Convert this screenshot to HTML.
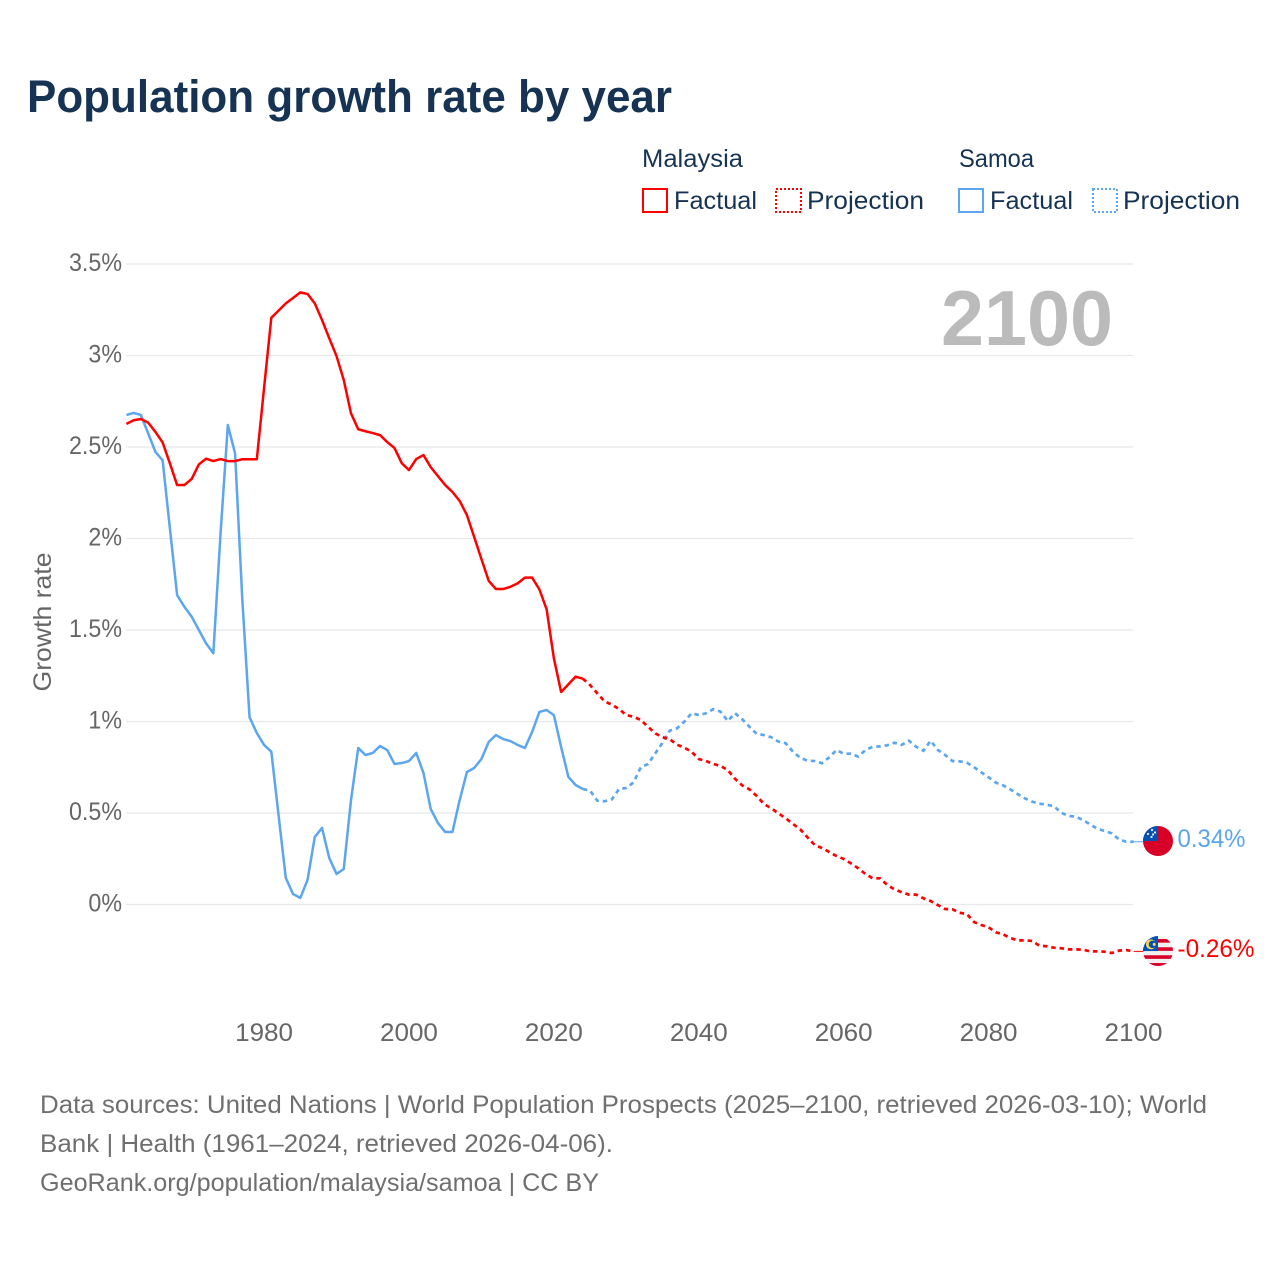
<!DOCTYPE html>
<html lang="en">
<head>
<meta charset="utf-8">
<title>Population growth rate by year</title>
<style>
html,body{margin:0;padding:0;background:#fff;}
svg{display:block;font-family:"Liberation Sans",sans-serif;}
</style>
</head>
<body>
<svg id="chart" xmlns="http://www.w3.org/2000/svg" width="1280" height="1280" viewBox="0 0 1280 1280">
  <rect width="1280" height="1280" fill="#ffffff"/>
  <text x="27" y="112" font-size="45" font-weight="700" fill="#163354" textLength="645" lengthAdjust="spacingAndGlyphs">Population growth rate by year</text>

  <g font-size="25" fill="#163354">
    <text x="642" y="167" textLength="101" lengthAdjust="spacingAndGlyphs">Malaysia</text>
    <rect x="643" y="189" width="24" height="23" fill="none" stroke="#ff0000" stroke-width="2"/>
    <text x="674" y="209" textLength="83" lengthAdjust="spacingAndGlyphs">Factual</text>
    <rect x="776" y="189" width="25" height="23" fill="none" stroke="#ff0000" stroke-width="2" stroke-dasharray="2 2"/>
    <text x="807" y="209" textLength="117" lengthAdjust="spacingAndGlyphs">Projection</text>
    <text x="959" y="167" textLength="75" lengthAdjust="spacingAndGlyphs">Samoa</text>
    <rect x="959" y="189" width="24" height="23" fill="none" stroke="#5ca5ef" stroke-width="2"/>
    <text x="990" y="209" textLength="83" lengthAdjust="spacingAndGlyphs">Factual</text>
    <rect x="1093" y="189" width="24" height="23" fill="none" stroke="#5ca5ef" stroke-width="2" stroke-dasharray="2 2"/>
    <text x="1123" y="209" textLength="117" lengthAdjust="spacingAndGlyphs">Projection</text>
  </g>

  <g id="grid"></g>
  <g id="yticks"></g>
  <g id="xticks"></g>
  <text transform="translate(51 622) rotate(-90)" text-anchor="middle" font-size="25" fill="#666666" textLength="139" lengthAdjust="spacingAndGlyphs">Growth rate</text>
  <text x="1113" y="345" text-anchor="end" font-size="78" font-weight="700" fill="#bbbbbb" textLength="172" lengthAdjust="spacingAndGlyphs">2100</text>
  <g id="series"></g>
  <g id="ends"></g>

  <g font-size="25" fill="#6f6f6f">
    <text x="40" y="1113" textLength="1167" lengthAdjust="spacingAndGlyphs">Data sources: United Nations | World Population Prospects (2025–2100, retrieved 2026-03-10); World</text>
    <text x="40" y="1152" textLength="573" lengthAdjust="spacingAndGlyphs">Bank | Health (1961–2024, retrieved 2026-04-06).</text>
    <text x="40" y="1191" textLength="559" lengthAdjust="spacingAndGlyphs">GeoRank.org/population/malaysia/samoa | CC BY</text>
  </g>
</svg>
<script>
const factualStartYear = 1961;
const projectionStartYear = 2024;
const xTickYears = [1980, 2000, 2020, 2040, 2060, 2080, 2100];
const yTickValues = [0, 0.5, 1, 1.5, 2, 2.5, 3, 3.5];
const yTickLabels = ["0%", "0.5%", "1%", "1.5%", "2%", "2.5%", "3%", "3.5%"];
const malaysiaEndLabel = "-0.26%";
const samoaEndLabel = "0.34%";

const malaysiaFactual = [2.626,2.646,2.653,2.633,2.583,2.525,2.411,2.292,2.292,2.325,2.405,2.436,2.423,2.434,2.423,2.423,2.433,2.433,2.433,2.822,3.206,3.245,3.285,3.314,3.345,3.336,3.285,3.194,3.094,2.997,2.866,2.684,2.597,2.586,2.576,2.565,2.527,2.494,2.412,2.374,2.434,2.456,2.39,2.341,2.292,2.254,2.205,2.128,2.008,1.888,1.769,1.724,1.724,1.736,1.755,1.786,1.786,1.722,1.613,1.345,1.161,1.203,1.245,1.234];
const malaysiaProjection = [1.234,1.199,1.154,1.110,1.092,1.068,1.035,1.026,1.008,0.971,0.935,0.914,0.903,0.873,0.857,0.835,0.795,0.784,0.768,0.757,0.735,0.687,0.651,0.629,0.593,0.549,0.526,0.498,0.471,0.440,0.411,0.367,0.325,0.309,0.287,0.265,0.249,0.225,0.198,0.167,0.143,0.143,0.107,0.083,0.067,0.054,0.054,0.034,0.019,-0.003,-0.025,-0.026,-0.045,-0.052,-0.096,-0.112,-0.125,-0.152,-0.163,-0.183,-0.196,-0.196,-0.199,-0.225,-0.228,-0.236,-0.239,-0.245,-0.245,-0.247,-0.256,-0.256,-0.258,-0.265,-0.252,-0.249,-0.256];
const samoaFactual = [2.675,2.686,2.675,2.575,2.474,2.427,2.057,1.691,1.627,1.573,1.5,1.427,1.373,2.03,2.62,2.465,1.664,1.023,0.937,0.872,0.835,0.489,0.145,0.057,0.036,0.134,0.369,0.418,0.254,0.167,0.194,0.571,0.855,0.817,0.828,0.866,0.844,0.768,0.773,0.784,0.828,0.719,0.522,0.445,0.396,0.396,0.571,0.724,0.746,0.795,0.888,0.926,0.904,0.893,0.872,0.855,0.943,1.052,1.063,1.035,0.861,0.697,0.653,0.631];
const samoaProjection = [0.631,0.622,0.567,0.564,0.575,0.631,0.637,0.668,0.75,0.768,0.826,0.884,0.95,0.963,0.999,1.045,1.035,1.045,1.067,1.054,1.003,1.045,1.012,0.971,0.932,0.926,0.914,0.89,0.881,0.835,0.802,0.786,0.784,0.772,0.804,0.844,0.824,0.824,0.808,0.844,0.862,0.864,0.87,0.884,0.872,0.895,0.862,0.84,0.895,0.844,0.817,0.784,0.782,0.775,0.75,0.722,0.695,0.666,0.651,0.629,0.604,0.58,0.562,0.551,0.545,0.538,0.502,0.484,0.48,0.462,0.438,0.414,0.402,0.389,0.356,0.343,0.343];

const NS = "http://www.w3.org/2000/svg";
const RED = "#ff0000";
const BLUE = "#5ca5ef";
const xScale = function (year) { return 126.4 + (year - 1961) * 7.2454; };
const yScale = function (value) { return 904.5 - value * 183; };

function make(tag, parent, attrs, text) {
  const node = document.createElementNS(NS, tag);
  Object.keys(attrs).forEach(function (k) { node.setAttribute(k, attrs[k]); });
  if (text !== undefined) node.textContent = text;
  parent.appendChild(node);
  return node;
}
function squeeze(node, ratio) {
  const len = node.getComputedTextLength();
  node.setAttribute("textLength", (len * ratio).toFixed(1));
  node.setAttribute("lengthAdjust", "spacingAndGlyphs");
}
function pathFrom(values, startYear) {
  return values.map(function (v, i) {
    return (i ? "L" : "M") + xScale(startYear + i).toFixed(2) + " " + yScale(v).toFixed(2);
  }).join(" ");
}

const gridGroup = document.getElementById("grid");
const yGroup = document.getElementById("yticks");
yTickValues.forEach(function (v, i) {
  const line = make("line", gridGroup, {x1: 126, x2: 1133, y1: yScale(v), y2: yScale(v), stroke: "#e8e8e8", "stroke-width": 1.3});
  
  
  const label = make("text", yGroup, {x: 122, y: yScale(v) + 7, "text-anchor": "end", "font-size": 25, fill: "#666666"}, yTickLabels[i]);
  
  
  squeeze(label, 0.93);
});

const xGroup = document.getElementById("xticks");
xTickYears.forEach(function (year) {
  const label = make("text", xGroup, {x: xScale(year), y: 1041, "text-anchor": "middle", "font-size": 25, fill: "#666666"}, String(year));
  
  
  squeeze(label, 1.04);
});

const seriesGroup = document.getElementById("series");
const samoaFactualLine = make("path", seriesGroup, {d: pathFrom(samoaFactual, factualStartYear), fill: "none", stroke: BLUE, "stroke-width": 2.5, "stroke-linejoin": "round"});


const samoaProjectionLine = make("path", seriesGroup, {d: pathFrom(samoaProjection, projectionStartYear), fill: "none", stroke: BLUE, "stroke-width": 2.7, "stroke-dasharray": "4.5 3.9"});


const malaysiaFactualLine = make("path", seriesGroup, {d: pathFrom(malaysiaFactual, factualStartYear), fill: "none", stroke: RED, "stroke-width": 2.5, "stroke-linejoin": "round"});


const malaysiaProjectionLine = make("path", seriesGroup, {d: pathFrom(malaysiaProjection, projectionStartYear), fill: "none", stroke: RED, "stroke-width": 2.7, "stroke-dasharray": "4.5 3.9"});



const endsGroup = document.getElementById("ends");
const lastYear = projectionStartYear + samoaProjection.length - 1;
const endX = xScale(lastYear);
const flagX = endX + 24.5;
const samoaEndY = yScale(samoaProjection[samoaProjection.length - 1]);
const malaysiaEndY = yScale(malaysiaProjection[malaysiaProjection.length - 1]);

const samoaConnector = make("line", endsGroup, {x1: endX, x2: flagX, y1: samoaEndY, y2: samoaEndY, stroke: BLUE, "stroke-width": 1});


const malaysiaConnector = make("line", endsGroup, {x1: endX, x2: flagX, y1: malaysiaEndY, y2: malaysiaEndY, stroke: RED, "stroke-width": 1});



const defs = make("defs", endsGroup, {});
const flagClip = make("clipPath", defs, {id: "flag-clip"});
make("circle", flagClip, {cx: 0, cy: 0, r: 15});

const samoaFlag = make("g", endsGroup, {transform: "translate(" + flagX + " " + (samoaEndY - 0.7) + ")", "clip-path": "url(#flag-clip)"});


make("rect", samoaFlag, {x: -15, y: -15, width: 30, height: 30, fill: "#d80027"});
make("rect", samoaFlag, {x: -15, y: -15, width: 15, height: 15, fill: "#0052b4"});
[[-6,-11],[-3,-8.5],[-6.5,-4],[-10,-7],[-5,-6.5]].forEach(function (p) {
  make("circle", samoaFlag, {cx: p[0], cy: p[1], r: 1.1, fill: "#f0f0f0"});
});

const malaysiaFlag = make("g", endsGroup, {transform: "translate(" + flagX + " " + (malaysiaEndY - 0.3) + ")", "clip-path": "url(#flag-clip)"});


make("rect", malaysiaFlag, {x: -15, y: -15, width: 30, height: 30, fill: "#f0f0f0"});
[-12, -3.8, 4.2, 12].forEach(function (sy) {
  make("rect", malaysiaFlag, {x: -15, y: sy, width: 30, height: 3.6, fill: "#d80027"});
});
make("rect", malaysiaFlag, {x: -15, y: -15, width: 15, height: 15, fill: "#0052b4"});
make("circle", malaysiaFlag, {cx: -7, cy: -6.7, r: 5, fill: "#ffda44"});
make("circle", malaysiaFlag, {cx: -5.5, cy: -6.7, r: 3.8, fill: "#0052b4"});
make("circle", malaysiaFlag, {cx: -3.8, cy: -6.7, r: 1.5, fill: "#ffda44"});

const samoaValue = make("text", endsGroup, {x: endX + 44, y: samoaEndY + 5.5, "font-size": 25, fill: BLUE}, samoaEndLabel);


samoaValue.setAttribute('textLength', '68');
samoaValue.setAttribute('lengthAdjust', 'spacingAndGlyphs');
const malaysiaValue = make("text", endsGroup, {x: endX + 44, y: malaysiaEndY + 5.5, "font-size": 25, fill: RED}, malaysiaEndLabel);


malaysiaValue.setAttribute('textLength', '77');
malaysiaValue.setAttribute('lengthAdjust', 'spacingAndGlyphs');
</script>
</body>
</html>
